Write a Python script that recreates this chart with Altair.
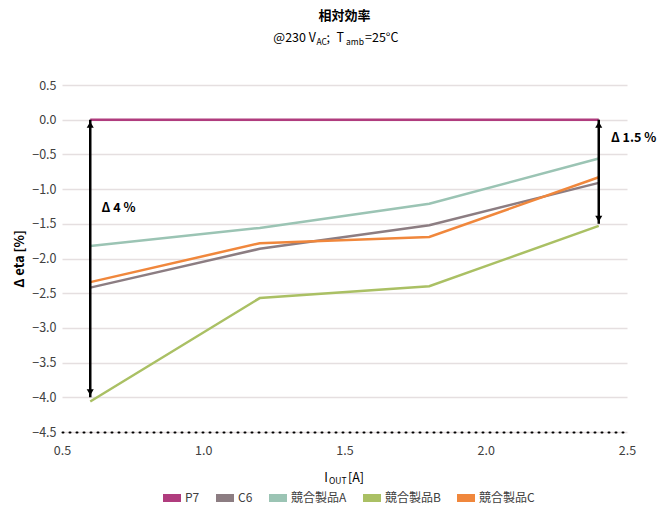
import altair as alt
import pandas as pd

# ---- data ----
x_vals = [0.6, 1.2, 1.8, 2.4]
series_names = ["P7", "C6", "競合製品A", "競合製品B", "競合製品C"]
p7 = [0.0, 0.0, 0.0, 0.0]
c6 = [-2.42, -1.86, -1.52, -0.91]
prod_a = [-1.82, -1.56, -1.21, -0.56]
prod_b = [-4.06, -2.57, -2.40, -1.53]
prod_c = [-2.34, -1.78, -1.69, -0.83]
colors = ["#B03C7E", "#8C7D82", "#9BC4B4", "#AAC064", "#F0873C"]
draw_order = ["競合製品A", "C6", "競合製品B", "競合製品C", "P7"]

arrow_x = [0.6, 2.4]
arrow_top = [0.0, 0.0]
arrow_bottom = [-4.0, -1.5]
arrow_labels = ["Δ 4 %", "Δ 1.5 %"]
label_x = [0.64, 2.443]
label_y = [-1.27, -0.26]
y_ticks = [0.5, 0.0, -0.5, -1.0, -1.5, -2.0, -2.5, -3.0, -3.5, -4.0, -4.5]
x_ticks = [0.5, 1.0, 1.5, 2.0, 2.5]

FONT = "Noto Sans CJK JP"
YTITLE = "Δ eta [%]"

rows = []
for name, vals in zip(series_names, [p7, c6, prod_a, prod_b, prod_c]):
    for xv, yv in zip(x_vals, vals):
        rows.append({"x": xv, "y": yv, "series": name, "ord": draw_order.index(name)})
df = pd.DataFrame(rows)

arr = pd.DataFrame({"x": arrow_x, "y": arrow_top, "yb": arrow_bottom})
arr_top = pd.DataFrame({"x": arrow_x, "y": arrow_top})
arr_bot = pd.DataFrame({"x": arrow_x, "y": arrow_bottom})
lab = pd.DataFrame({"x": label_x, "y": label_y, "text": arrow_labels})

xscale = alt.Scale(domain=[0.5, 2.5], nice=False)
yscale = alt.Scale(domain=[-4.5, 0.5], nice=False)

xaxis = alt.Axis(title=None, values=x_ticks, format=".1f",
                 grid=False, ticks=False, domain=True, domainColor="#000000",
                 domainWidth=2, domainDash=[1, 6], domainCap="round",
                 labelFlush=False, labelOverlap=False,
                 labelPadding=12, labelFontSize=12.5, labelColor="#404040",
                 labelFont=FONT)
yaxis = alt.Axis(title=YTITLE, values=y_ticks,
                 format=".1f", grid=True, gridColor="#E5DFE0", gridWidth=1.5,
                 ticks=False, domain=False, labelPadding=6, labelFontSize=12.5,
                 labelFlush=False, labelOverlap=False,
                 labelColor="#404040", labelFont=FONT, titleFont=FONT,
                 titleFontSize=13, titleFontWeight="bold", titleColor="#000000",
                 titlePadding=5)

X = alt.X("x:Q", scale=xscale, axis=xaxis)
Y = alt.Y("y:Q", scale=yscale, axis=yaxis)

lines = alt.Chart(df).mark_line(strokeWidth=2.5).encode(
    x=X, y=Y,
    color=alt.Color("series:N", scale=alt.Scale(domain=series_names, range=colors),
                    legend=alt.Legend(title=None, orient="none", legendX=97, legendY=400,
                                      direction="horizontal", columns=5, padding=0,
                                      symbolType="M-1,0H1", symbolSize=324,
                                      symbolStrokeWidth=8, labelFont=FONT, labelFontSize=12,
                                      labelColor="#404040", columnPadding=0, labelOffset=0)),
    order=alt.Order("ord:Q"),
    detail="series:N",
)

rules = alt.Chart(arr).mark_rule(color="#000000", strokeWidth=2.5).encode(
    x=X, y=Y, y2="yb:Q")
heads_up = alt.Chart(arr_top).mark_point(shape="triangle-up", filled=True, color="#000000",
                                         size=50, opacity=1, yOffset=5).encode(x=X, y=Y)
heads_down = alt.Chart(arr_bot).mark_point(shape="triangle-down", filled=True, color="#000000",
                                           size=50, opacity=1, yOffset=-5).encode(x=X, y=Y)
labels = alt.Chart(lab).mark_text(align="left", baseline="middle", font=FONT, fontSize=12.5,
                                  fontWeight="bold", color="#000000").encode(
    x=X, y=Y, text="text:N")

def ptext(text, x, y, size, align="left", weight="normal"):
    return alt.Chart(pd.DataFrame({"t": [text]})).mark_text(
        align=align, baseline="middle", font=FONT, fontSize=size, fontWeight=weight,
        color="#000000").encode(x=alt.value(x), y=alt.value(y), text="t:N")

title = ptext("相対効率", 282.5, -69, 13, align="center", weight="bold")

sub = [
    ptext("@230 V", 254, -47, 12.5, align="right"),
    ptext("AC", 254.5, -43, 8.5),
    ptext(";", 264.5, -47, 12.5),
    ptext("T", 282, -47, 12.5, align="right"),
    ptext("amb", 284, -43, 8.5),
    ptext("=25°C", 303, -47, 12.5),
]
xtitle = [
    ptext("I", 266, 393, 12.5, align="right"),
    ptext("OUT", 267, 396, 8.5),
    ptext("[A]", 286, 393, 12.5),
]

# whole svg kept within 649 x 497 so the page (8px margins) fits the 665 x 513 window
chart = alt.layer(lines, rules, heads_up, heads_down, labels, title, *sub, *xtitle).properties(
    width=565, height=347,
    padding={"left": 54, "top": 77, "right": 30, "bottom": 73},
    autosize=alt.AutoSizeParams(type="none"),
).configure(font=FONT).configure_view(stroke=None).configure_axis(
    labelOverlap=False, labelFlush=False)

chart.save("out.html", embed_options={"renderer": "svg", "actions": False})
